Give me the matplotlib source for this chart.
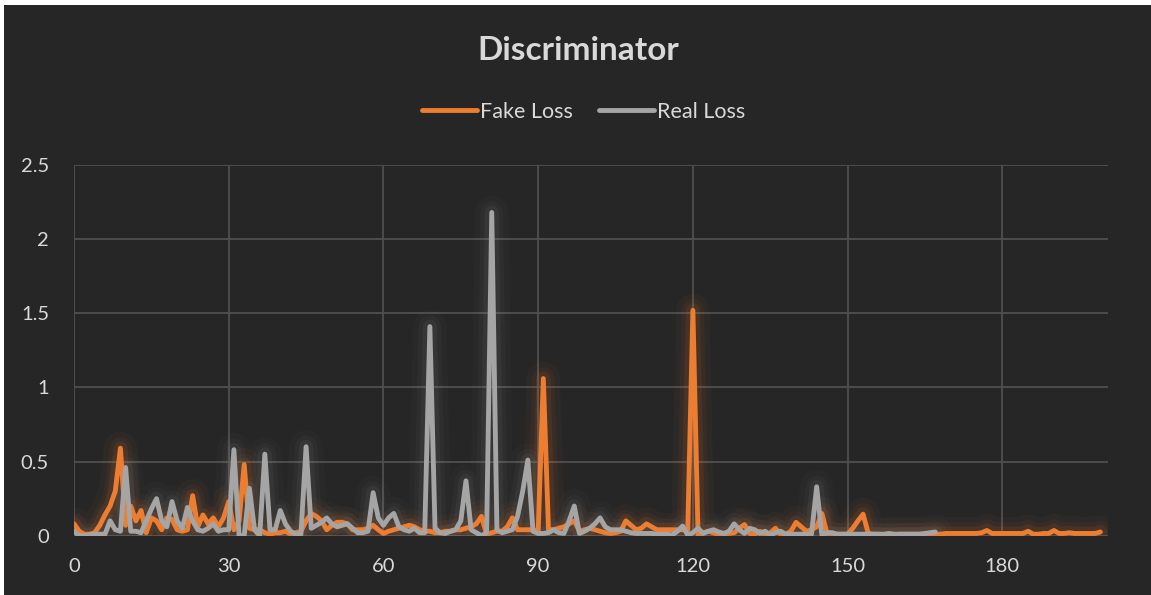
import matplotlib
matplotlib.use("Agg")
import matplotlib.pyplot as plt
from matplotlib.patches import Rectangle

# Discriminator losses per step
fake_loss = [
    0.08, 0.03, 0.01, 0.01, 0.02, 0.07, 0.14, 0.20, 0.30, 0.59,
    0.07, 0.20, 0.10, 0.17, 0.02, 0.12, 0.10, 0.04, 0.12, 0.11,
    0.04, 0.03, 0.04, 0.27, 0.06, 0.14, 0.08, 0.12, 0.06, 0.12,
    0.23, 0.04, 0.10, 0.48, 0.05, 0.04, 0.04, 0.02, 0.01, 0.02,
    0.02, 0.03, 0.01, 0.02, 0.03, 0.10, 0.15, 0.13, 0.10, 0.04,
    0.07, 0.09, 0.09, 0.08, 0.04, 0.04, 0.04, 0.05, 0.07, 0.04,
    0.015, 0.03, 0.04, 0.05, 0.06, 0.07, 0.06, 0.04, 0.03, 0.03,
    0.02, 0.02, 0.03, 0.03, 0.04, 0.04, 0.05, 0.06, 0.08, 0.13,
    0.01, 0.02, 0.03, 0.03, 0.06, 0.12, 0.04, 0.04, 0.04, 0.04,
    0.03, 1.06, 0.04, 0.04, 0.05, 0.06, 0.08, 0.10, 0.03, 0.04,
    0.05, 0.04, 0.03, 0.02, 0.015, 0.02, 0.03, 0.10, 0.07, 0.04,
    0.05, 0.08, 0.06, 0.04, 0.04, 0.04, 0.04, 0.04, 0.04, 0.04,
    1.52, 0.00, 0.02, 0.03, 0.02, 0.005, 0.01, 0.015, 0.02, 0.05,
    0.075, 0.015, 0.01, 0.03, 0.005, 0.02, 0.05, 0.01, 0.01, 0.03,
    0.09, 0.06, 0.03, 0.04, 0.06, 0.15, 0.015, 0.01, 0.01, 0.01,
    0.01, 0.05, 0.10, 0.145, 0.015, 0.01, 0.01, 0.005, 0.005, 0.005,
    0.01, 0.01, 0.01, 0.01, 0.01, 0.01, 0.01, 0.01, 0.01, 0.015,
    0.015, 0.015, 0.015, 0.015, 0.015, 0.015, 0.02, 0.035, 0.015, 0.015,
    0.015, 0.015, 0.015, 0.015, 0.015, 0.03, 0.01, 0.01, 0.015, 0.015,
    0.035, 0.015, 0.015, 0.02, 0.015, 0.015, 0.015, 0.015, 0.015, 0.025,
]

real_loss = [
    0.03, 0.00, 0.00, 0.005, 0.01, 0.01, 0.01, 0.10, 0.04, 0.03,
    0.46, 0.03, 0.03, 0.02, 0.10, 0.18, 0.25, 0.10, 0.06, 0.23,
    0.10, 0.05, 0.19, 0.10, 0.04, 0.03, 0.05, 0.08, 0.03, 0.04,
    0.04, 0.58, 0.00, 0.00, 0.32, 0.04, 0.00, 0.55, 0.04, 0.04,
    0.17, 0.08, 0.03, 0.01, 0.01, 0.60, 0.05, 0.07, 0.09, 0.12,
    0.08, 0.06, 0.07, 0.08, 0.05, 0.02, 0.02, 0.03, 0.29, 0.12,
    0.07, 0.12, 0.15, 0.06, 0.04, 0.03, 0.05, 0.02, 0.02, 1.41,
    0.05, 0.02, 0.015, 0.03, 0.04, 0.10, 0.37, 0.04, 0.02, 0.00,
    0.02, 2.18, 0.04, 0.02, 0.03, 0.04, 0.13, 0.30, 0.51, 0.03,
    0.015, 0.015, 0.02, 0.04, 0.02, 0.015, 0.10, 0.20, 0.015, 0.03,
    0.05, 0.08, 0.12, 0.06, 0.04, 0.04, 0.04, 0.03, 0.02, 0.015,
    0.015, 0.015, 0.015, 0.01, 0.01, 0.01, 0.005, 0.03, 0.065, 0.005,
    0.02, 0.05, 0.015, 0.03, 0.04, 0.025, 0.015, 0.03, 0.08, 0.04,
    0.015, 0.05, 0.04, 0.015, 0.03, 0.005, 0.02, 0.03, 0.01, 0.01,
    0.01, 0.01, 0.01, 0.01, 0.33, 0.005, 0.02, 0.02, 0.01, 0.01,
    0.01, 0.01, 0.01, 0.01, 0.01, 0.01, 0.01, 0.01, 0.015, 0.01,
    0.01, 0.01, 0.01, 0.01, 0.01, 0.015, 0.02, 0.025,
]

x_ticks = [0, 30, 60, 90, 120, 150, 180]
y_ticks = [0, 0.5, 1, 1.5, 2, 2.5]
y_labels = ["0", "0.5", "1", "1.5", "2", "2.5"]

bg = "#262626"
txt = "#D9D9D9"
orange = "#ED7D31"
grey = "#A5A5A5"

plt.rcParams["font.family"] = ["Lato", "DejaVu Sans"]

fig = plt.figure(figsize=(11.51, 5.95), dpi=100, facecolor=bg)
ax = fig.add_axes([0.0643, 0.0997, 0.8984, 0.623])
ax.set_facecolor(bg)

# thin white frame strip at the top/left of the original screenshot
fig.add_artist(Rectangle((0, 1 - 5 / 595), 1, 5 / 595, transform=fig.transFigure,
                         facecolor="white", edgecolor="none"))
fig.add_artist(Rectangle((0, 0), 4 / 1151, 1, transform=fig.transFigure,
                         facecolor="white", edgecolor="none"))

xf = list(range(len(fake_loss)))
xr = list(range(len(real_loss)))

# soft glow under each line
for lw, a in [(24, 0.04), (16, 0.06), (10, 0.09)]:
    ax.plot(xf, fake_loss, color=orange, lw=lw, alpha=a, solid_capstyle="round", zorder=2)
    ax.plot(xr, real_loss, color=grey, lw=lw, alpha=a * 0.8, solid_capstyle="round", zorder=2)

ax.plot(xf, fake_loss, color=orange, lw=3.5, solid_capstyle="round", label="Fake Loss", zorder=4)
ax.plot(xr, real_loss, color=grey, lw=3.5, solid_capstyle="round", label="Real Loss", zorder=5)

ax.set_xlim(0, 200.5)
ax.set_ylim(0, 2.5)
ax.set_xticks(x_ticks)
ax.set_yticks(y_ticks)
ax.set_yticklabels(y_labels)
ax.grid(True, color="#4F4F4F", lw=1.3, zorder=0)
ax.set_axisbelow(True)
for s in ax.spines.values():
    s.set_visible(False)
ax.tick_params(length=0, colors=txt, labelsize=14.5)
ax.tick_params(axis="x", pad=16)
ax.tick_params(axis="y", pad=18)

fig.text(0.502, 0.915, "Discriminator", ha="center", va="center",
         fontsize=24, fontweight="bold", color=txt)

leg = fig.legend(loc="center", bbox_to_anchor=(0.507, 0.812), ncol=2, frameon=False,
                 fontsize=15.5, handlelength=2.55, handletextpad=0.15, columnspacing=1.2)
for t in leg.get_texts():
    t.set_color(txt)

fig.savefig("out.png", dpi=100, facecolor=bg)
